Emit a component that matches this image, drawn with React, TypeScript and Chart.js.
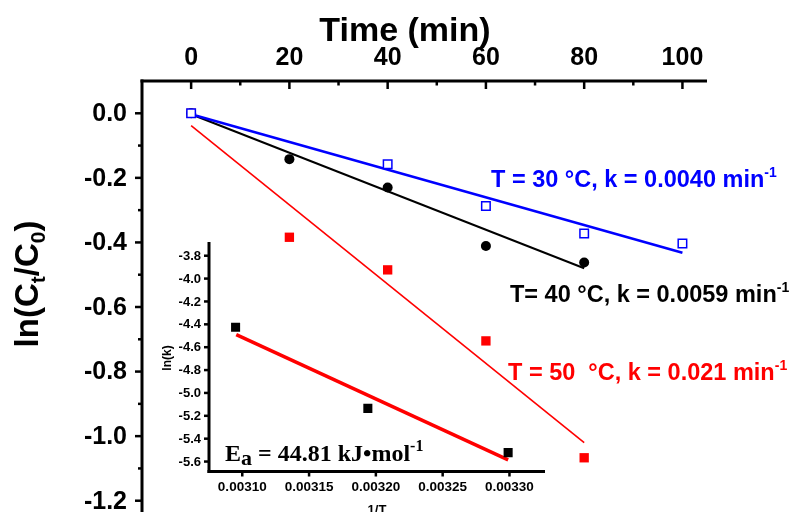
import React, { useEffect, useRef } from 'react';
import { Chart, registerables } from 'chart.js';
Chart.register(...registerables);

// ---------- main plot data ----------
const timeTicks = [0, 20, 40, 60, 80, 100];
const timeMinorTicks = [10, 30, 50, 70, 90];
const lnTicks = [0, -0.2, -0.4, -0.6, -0.8, -1.0, -1.2];
const lnMinorTicks = [-0.1, -0.3, -0.5, -0.7, -0.9, -1.1];

const t30Time = [0, 40, 60, 80, 100];
const t30Ln = [0, -0.158, -0.287, -0.372, -0.403];
const t30FitTime = [0, 100];
const t30FitLn = [-0.003, -0.432];

const t40Time = [0, 20, 40, 60, 80];
const t40Ln = [0, -0.142, -0.23, -0.411, -0.462];
const t40FitTime = [0, 80];
const t40FitLn = [-0.003, -0.48];

const t50Time = [0, 20, 40, 60, 80];
const t50Ln = [0, -0.384, -0.485, -0.705, -1.067];
const t50FitTime = [0, 80];
const t50FitLn = [-0.038, -1.02];

// ---------- inset (Arrhenius) data ----------
const invT = [0.003095, 0.003194, 0.003299];
const lnK = [-4.425, -5.135, -5.522];
const fitInvT = [0.0030955, 0.003299];
const fitLnK = [-4.49, -5.585];
const invTTicks = [0.0031, 0.00315, 0.0032, 0.00325, 0.0033];
const lnKTicks = [-3.8, -4.0, -4.2, -4.4, -4.6, -4.8, -5.0, -5.2, -5.4, -5.6];

const SANS = '"Liberation Sans", Arial, sans-serif';
const SERIF = '"Liberation Serif", "Times New Roman", serif';

type Part = { t: string; size: number; dy?: number; serif?: boolean };

function drawRich(ctx: CanvasRenderingContext2D, parts: Part[], x: number, y: number, align: 'left' | 'center', color: string) {
  ctx.fillStyle = color;
  ctx.textAlign = 'left';
  ctx.textBaseline = 'alphabetic';
  const fnt = (p: Part) => `bold ${p.size}px ${p.serif ? SERIF : SANS}`;
  let w = 0;
  parts.forEach((p) => {
    ctx.font = fnt(p);
    w += ctx.measureText(p.t).width;
  });
  let cx = align === 'center' ? x - w / 2 : x;
  parts.forEach((p) => {
    ctx.font = fnt(p);
    ctx.fillText(p.t, cx, y + (p.dy || 0));
    cx += ctx.measureText(p.t).width;
  });
}

function seg(ctx: CanvasRenderingContext2D, x1: number, y1: number, x2: number, y2: number) {
  ctx.beginPath();
  ctx.moveTo(x1, y1);
  ctx.lineTo(x2, y2);
  ctx.stroke();
}

const pts = (xs: number[], ys: number[]) => xs.map((v, i) => ({ x: v, y: ys[i] }));

const mainDecor = {
  id: 'mainDecor',
  afterDraw(chart: any) {
    const { ctx, chartArea: a, scales } = chart;
    const x = scales.x;
    const y = scales.y;
    ctx.save();
    ctx.strokeStyle = '#000';
    ctx.lineWidth = 3;
    seg(ctx, a.left - 1.5, a.top, a.right, a.top);
    seg(ctx, a.left, a.top - 1.5, a.left, a.bottom);
    ctx.lineWidth = 2.5;
    timeTicks.forEach((v) => {
      const px = x.getPixelForValue(v);
      seg(ctx, px, a.top, px, a.top + 8);
    });
    timeMinorTicks.forEach((v) => {
      const px = x.getPixelForValue(v);
      seg(ctx, px, a.top, px, a.top + 4.5);
    });
    lnTicks.forEach((v) => {
      const py = y.getPixelForValue(v);
      seg(ctx, a.left, py, a.left - 7, py);
    });
    lnMinorTicks.forEach((v) => {
      const py = y.getPixelForValue(v);
      seg(ctx, a.left, py, a.left - 4, py);
    });
    ctx.fillStyle = '#000';
    ctx.font = `bold 25px ${SANS}`;
    ctx.textAlign = 'center';
    ctx.textBaseline = 'alphabetic';
    timeTicks.forEach((v) => {
      ctx.fillText(String(v), x.getPixelForValue(v), a.top - 16);
    });
    ctx.textAlign = 'right';
    ctx.textBaseline = 'middle';
    lnTicks.forEach((v) => {
      ctx.fillText(v.toFixed(1), a.left - 15, y.getPixelForValue(v) + 1);
    });
    // axis titles
    drawRich(ctx, [{ t: 'Time (min)', size: 34 }], 405, 41, 'center', '#000');
    ctx.save();
    ctx.translate(38, 284);
    ctx.rotate(-Math.PI / 2);
    drawRich(
      ctx,
      [
        { t: 'ln(C', size: 33 },
        { t: 't', size: 21, dy: 7 },
        { t: '/C', size: 33 },
        { t: '0', size: 21, dy: 7 },
        { t: ')', size: 33 },
      ],
      0,
      0,
      'center',
      '#000'
    );
    ctx.restore();
    // series annotations
    drawRich(ctx, [{ t: 'T = 30 °C, k = 0.0040 min', size: 23.5 }, { t: '-1', size: 14, dy: -10 }], 491, 187, 'left', '#0000FF');
    drawRich(ctx, [{ t: 'T= 40 °C, k = 0.0059 min', size: 23.5 }, { t: '-1', size: 14, dy: -10 }], 510, 302, 'left', '#000000');
    drawRich(ctx, [{ t: 'T = 50  °C, k = 0.021 min', size: 23.5 }, { t: '-1', size: 14, dy: -10 }], 508, 380, 'left', '#FF0000');
    ctx.restore();
  },
};

const insetDecor = {
  id: 'insetDecor',
  afterDraw(chart: any) {
    const { ctx, chartArea: a, scales } = chart;
    const x = scales.x;
    const y = scales.y;
    ctx.save();
    ctx.strokeStyle = '#000';
    ctx.lineWidth = 3;
    seg(ctx, a.left, a.top, a.left, a.bottom + 1.5);
    seg(ctx, a.left - 1.5, a.bottom, a.right, a.bottom);
    ctx.lineWidth = 2.5;
    lnKTicks.forEach((v) => {
      const py = y.getPixelForValue(v);
      seg(ctx, a.left, py, a.left - 5, py);
    });
    invTTicks.forEach((v) => {
      const px = x.getPixelForValue(v);
      seg(ctx, px, a.bottom, px, a.bottom + 5);
    });
    ctx.fillStyle = '#000';
    ctx.font = `bold 13px ${SANS}`;
    ctx.textAlign = 'right';
    ctx.textBaseline = 'middle';
    lnKTicks.forEach((v) => {
      ctx.fillText(v.toFixed(1), a.left - 8, y.getPixelForValue(v) + 0.5);
    });
    ctx.textAlign = 'center';
    ctx.font = `bold 13.5px ${SANS}`;
    invTTicks.forEach((v) => {
      ctx.fillText(v.toFixed(5), x.getPixelForValue(v), a.bottom + 16);
    });
    ctx.font = `bold 13px ${SANS}`;
    ctx.fillText('1/T', 377, 510);
    ctx.save();
    ctx.translate(171, 358);
    ctx.rotate(-Math.PI / 2);
    ctx.font = `bold 12px ${SANS}`;
    ctx.textAlign = 'center';
    ctx.textBaseline = 'alphabetic';
    ctx.fillText('ln(k)', 0, 0);
    ctx.restore();
    drawRich(
      ctx,
      [
        { t: 'E', size: 24, serif: true },
        { t: 'a', size: 22, dy: 4, serif: true },
        { t: ' = 44.81 kJ\u2022mol', size: 24, serif: true },
        { t: '-1', size: 16, dy: -10, serif: true },
      ],
      225,
      461,
      'left',
      '#000'
    );
    ctx.restore();
  },
};

export default function App() {
  const mainRef = useRef<HTMLCanvasElement>(null);
  const insetRef = useRef<HTMLCanvasElement>(null);

  useEffect(() => {
    const hidden = {
      grid: { display: false, drawTicks: false },
      border: { display: false },
      ticks: { display: false },
    };
    const main = new Chart(mainRef.current as HTMLCanvasElement, {
      type: 'scatter',
      data: {
        datasets: [
          {
            label: 'T = 30 °C',
            data: pts(t30Time, t30Ln),
            pointStyle: 'rect',
            pointRadius: 6,
            borderColor: '#0000FF',
            backgroundColor: '#FFFFFF',
            borderWidth: 1.5,
            showLine: false,
          },
          {
            label: 'T = 40 °C',
            data: pts(t40Time, t40Ln),
            pointStyle: 'circle',
            pointRadius: 5,
            borderColor: '#000000',
            backgroundColor: '#000000',
            borderWidth: 0,
            showLine: false,
          },
          {
            label: 'T = 50 °C',
            data: pts(t50Time, t50Ln),
            pointStyle: 'rect',
            pointRadius: 6.6,
            borderColor: '#FF0000',
            backgroundColor: '#FF0000',
            borderWidth: 0,
            showLine: false,
          },
          {
            label: 'fit 30',
            data: pts(t30FitTime, t30FitLn),
            showLine: true,
            pointRadius: 0,
            borderColor: '#0000FF',
            borderWidth: 2.5,
          },
          {
            label: 'fit 40',
            data: pts(t40FitTime, t40FitLn),
            showLine: true,
            pointRadius: 0,
            borderColor: '#000000',
            borderWidth: 2,
          },
          {
            label: 'fit 50',
            data: pts(t50FitTime, t50FitLn),
            showLine: true,
            pointRadius: 0,
            borderColor: '#FF0000',
            borderWidth: 1.6,
          },
        ],
      },
      options: {
        responsive: false,
        animation: false,
        devicePixelRatio: 1,
        events: [],
        layout: { padding: { left: 0, top: 0, right: 87, bottom: 27 } },
        plugins: { legend: { display: false }, tooltip: { enabled: false }, title: { display: false } },
        scales: {
          x: {
            type: 'linear',
            position: 'top',
            min: -10,
            max: 105,
            bounds: 'data',
            ...hidden,
            afterFit: (s: any) => {
              s.height = 81;
            },
          },
          y: {
            type: 'linear',
            position: 'left',
            min: -1.3,
            max: 0.1,
            bounds: 'data',
            ...hidden,
            afterFit: (s: any) => {
              s.width = 142;
            },
          },
        },
      } as any,
      plugins: [mainDecor],
    });

    const inset = new Chart(insetRef.current as HTMLCanvasElement, {
      type: 'scatter',
      data: {
        datasets: [
          {
            label: 'ln(k)',
            data: pts(invT, lnK),
            pointStyle: 'rect',
            pointRadius: 6.4,
            borderColor: '#000000',
            backgroundColor: '#000000',
            borderWidth: 0,
            showLine: false,
          },
          {
            label: 'fit',
            data: pts(fitInvT, fitLnK),
            showLine: true,
            pointRadius: 0,
            borderColor: '#FF0000',
            borderWidth: 3.5,
          },
        ],
      },
      options: {
        responsive: false,
        animation: false,
        devicePixelRatio: 1,
        events: [],
        layout: { padding: { left: 0, top: 242, right: 249, bottom: 0 } },
        plugins: { legend: { display: false }, tooltip: { enabled: false }, title: { display: false } },
        scales: {
          x: {
            type: 'linear',
            position: 'bottom',
            min: 0.0030751,
            max: 0.0033266,
            bounds: 'data',
            ...hidden,
            afterFit: (s: any) => {
              s.height = 88.5;
            },
          },
          y: {
            type: 'linear',
            position: 'left',
            min: -5.687,
            max: -3.68,
            bounds: 'data',
            ...hidden,
            afterFit: (s: any) => {
              s.width = 209;
            },
          },
        },
      } as any,
      plugins: [insetDecor],
    });

    return () => {
      main.destroy();
      inset.destroy();
    };
  }, []);

  return (
    <div style={{ position: 'absolute', left: 0, top: 0, width: 794, height: 512, overflow: 'hidden', background: '#fff' }}>
      <canvas ref={mainRef} width={794} height={560} style={{ position: 'absolute', left: 0, top: 0 }} />
      <canvas ref={insetRef} width={794} height={560} style={{ position: 'absolute', left: 0, top: 0 }} />
    </div>
  );
}
